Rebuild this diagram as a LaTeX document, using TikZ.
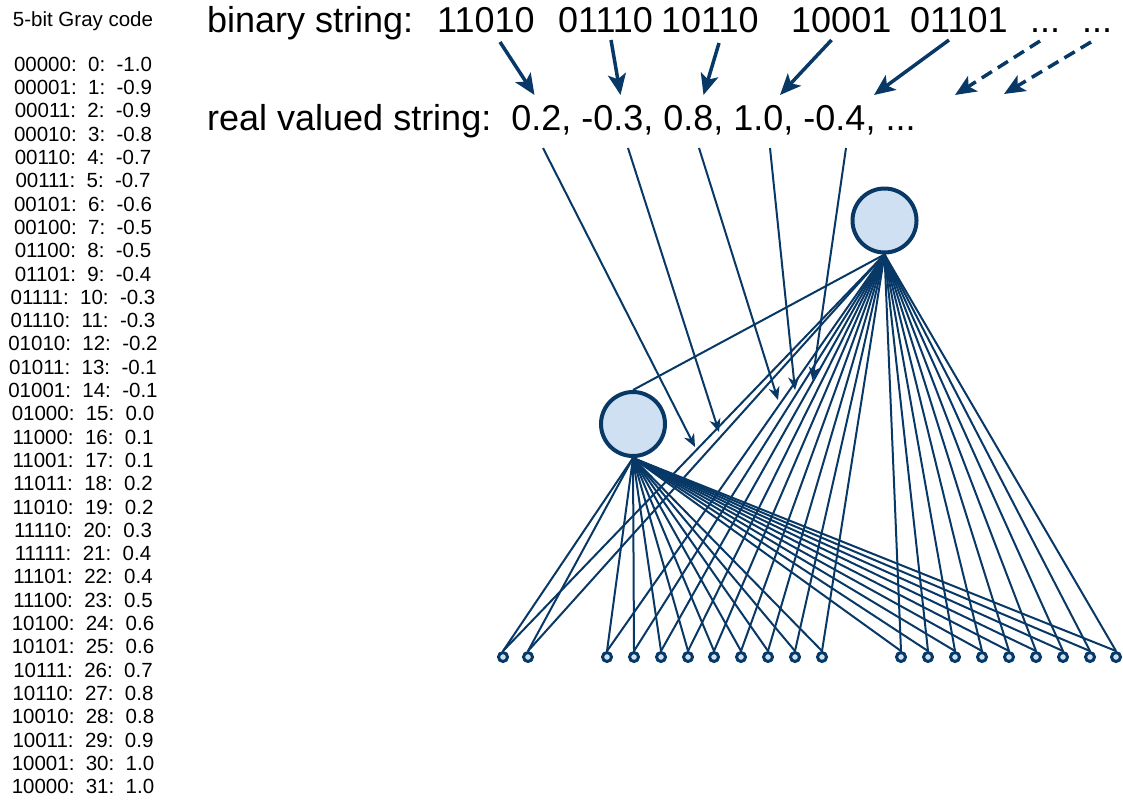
\documentclass[tikz,border=0pt]{standalone}
\usepackage{fontspec}
\setmainfont{Liberation Sans}
\usetikzlibrary{arrows.meta}
\definecolor{navy}{RGB}{8,56,102}
\definecolor{lightfill}{RGB}{207,224,242}
\frenchspacing
\begin{document}
\begin{tikzpicture}[x=1pt,y=-1pt,
  hidden/.style={circle,draw=navy,fill=lightfill,line width=4pt,minimum size=64pt,inner sep=0pt},
  inputnode/.style={circle,draw=navy,fill=lightfill,line width=3pt,minimum size=9pt,inner sep=0pt},
  conn/.style={draw=navy,line width=2pt},
  bigarrow/.style={draw=navy,line width=3.5pt,-{Stealth[length=21pt,width=18pt,inset=5pt]}},
  dasharrow/.style={bigarrow,dash pattern=on 12pt off 7pt},
  wtarrow/.style={draw=navy,line width=2pt,-{Stealth[length=13pt,width=11pt,inset=4pt]}},
  bigtext/.style={font=\fontsize{36}{43}\selectfont,anchor=base west,inner sep=0pt},
  tabletext/.style={font=\fontsize{20.5}{24}\selectfont,anchor=base,inner sep=0pt}]
\useasboundingbox (0,0) rectangle (1123,803);

% Gray code table
\node[tabletext] (title) at (83,26) {5-bit Gray code};
\foreach \code/\idx/\val [count=\i from 0] in {
 00000/0/-1.0, 00001/1/-0.9, 00011/2/-0.9, 00010/3/-0.8, 00110/4/-0.7,
 00111/5/-0.7, 00101/6/-0.6, 00100/7/-0.5, 01100/8/-0.5, 01101/9/-0.4,
 01111/10/-0.3, 01110/11/-0.3, 01010/12/-0.2, 01011/13/-0.1, 01001/14/-0.1,
 01000/15/0.0, 11000/16/0.1, 11001/17/0.1, 11011/18/0.2, 11010/19/0.2,
 11110/20/0.3, 11111/21/0.4, 11101/22/0.4, 11100/23/0.5, 10100/24/0.6,
 10101/25/0.6, 10111/26/0.7, 10110/27/0.8, 10010/28/0.8, 10011/29/0.9,
 10001/30/1.0, 10000/31/1.0}
  \node[tabletext] (row\i) at (83,71.3+23.3*\i) {\code:\ \ \idx:\ \ \val};

% binary string line
\node[bigtext] (blabel) at (207,32) {binary string:};
\node[bigtext] (b1) at (437,32) {11010};
\node[bigtext] (b2) at (558,32) {01110};
\node[bigtext] (b3) at (661,32) {10110};
\node[bigtext] (b4) at (791,32) {10001};
\node[bigtext] (b5) at (910,32) {01101};
\node[bigtext] (b6) at (1030,32) {...};
\node[bigtext] (b7) at (1082,32) {...};

% real valued string line
\node[bigtext] (rlabel) at (207,130) {real valued string:\ \ 0.2, -0.3, 0.8, 1.0, -0.4, ...};

% arrows binary -> real
\coordinate (s1) at (500,42);   \coordinate (t1) at (534.5,95);
\coordinate (s2) at (611,40);   \coordinate (t2) at (620.5,95);
\coordinate (s3) at (719,43);   \coordinate (t3) at (703.5,95);
\coordinate (s4) at (831.5,40); \coordinate (t4) at (780,95);
\coordinate (s5) at (949,40);   \coordinate (t5) at (874,95);
\coordinate (s6) at (1040,41);  \coordinate (t6) at (955,95);
\coordinate (s7) at (1091,42);  \coordinate (t7) at (1004,94);
\foreach \k in {1,...,5} \draw[bigarrow] (s\k) -- (t\k);
\draw[dasharrow] (s6) -- (t6);
\draw[dasharrow] (s7) -- (t7);

% hidden units
\node[hidden] (A) at (633,424) {};
\node[hidden] (B) at (884.5,220.5) {};

% input units
\foreach \i/\x in {1/503,2/528,3/607,4/634,5/661,6/688,7/714,8/741,9/768,10/795,11/822,
  12/901,13/928,14/955,15/982,16/1009,17/1036,18/1063,19/1090,20/1116}
  \node[inputnode] (n\i) at (\x,657) {};

% connections
\foreach \i in {1,...,20} {
  \draw[conn] (A.south) -- (n\i.north);
  \draw[conn] (B.south) -- (n\i.north);
}
\draw[conn] (B.south) -- (A.north);

% weight arrows
\coordinate (w1s) at (543,148); \coordinate (w1t) at (695,447);
\coordinate (w2s) at (628,148); \coordinate (w2t) at (719,432);
\coordinate (w3s) at (699,148); \coordinate (w3t) at (778,400);
\coordinate (w4s) at (770,148); \coordinate (w4t) at (795,390);
\coordinate (w5s) at (846,148); \coordinate (w5t) at (812.5,380);
\foreach \k in {1,...,5} \draw[wtarrow] (w\k s) -- (w\k t);
\end{tikzpicture}
\end{document}
